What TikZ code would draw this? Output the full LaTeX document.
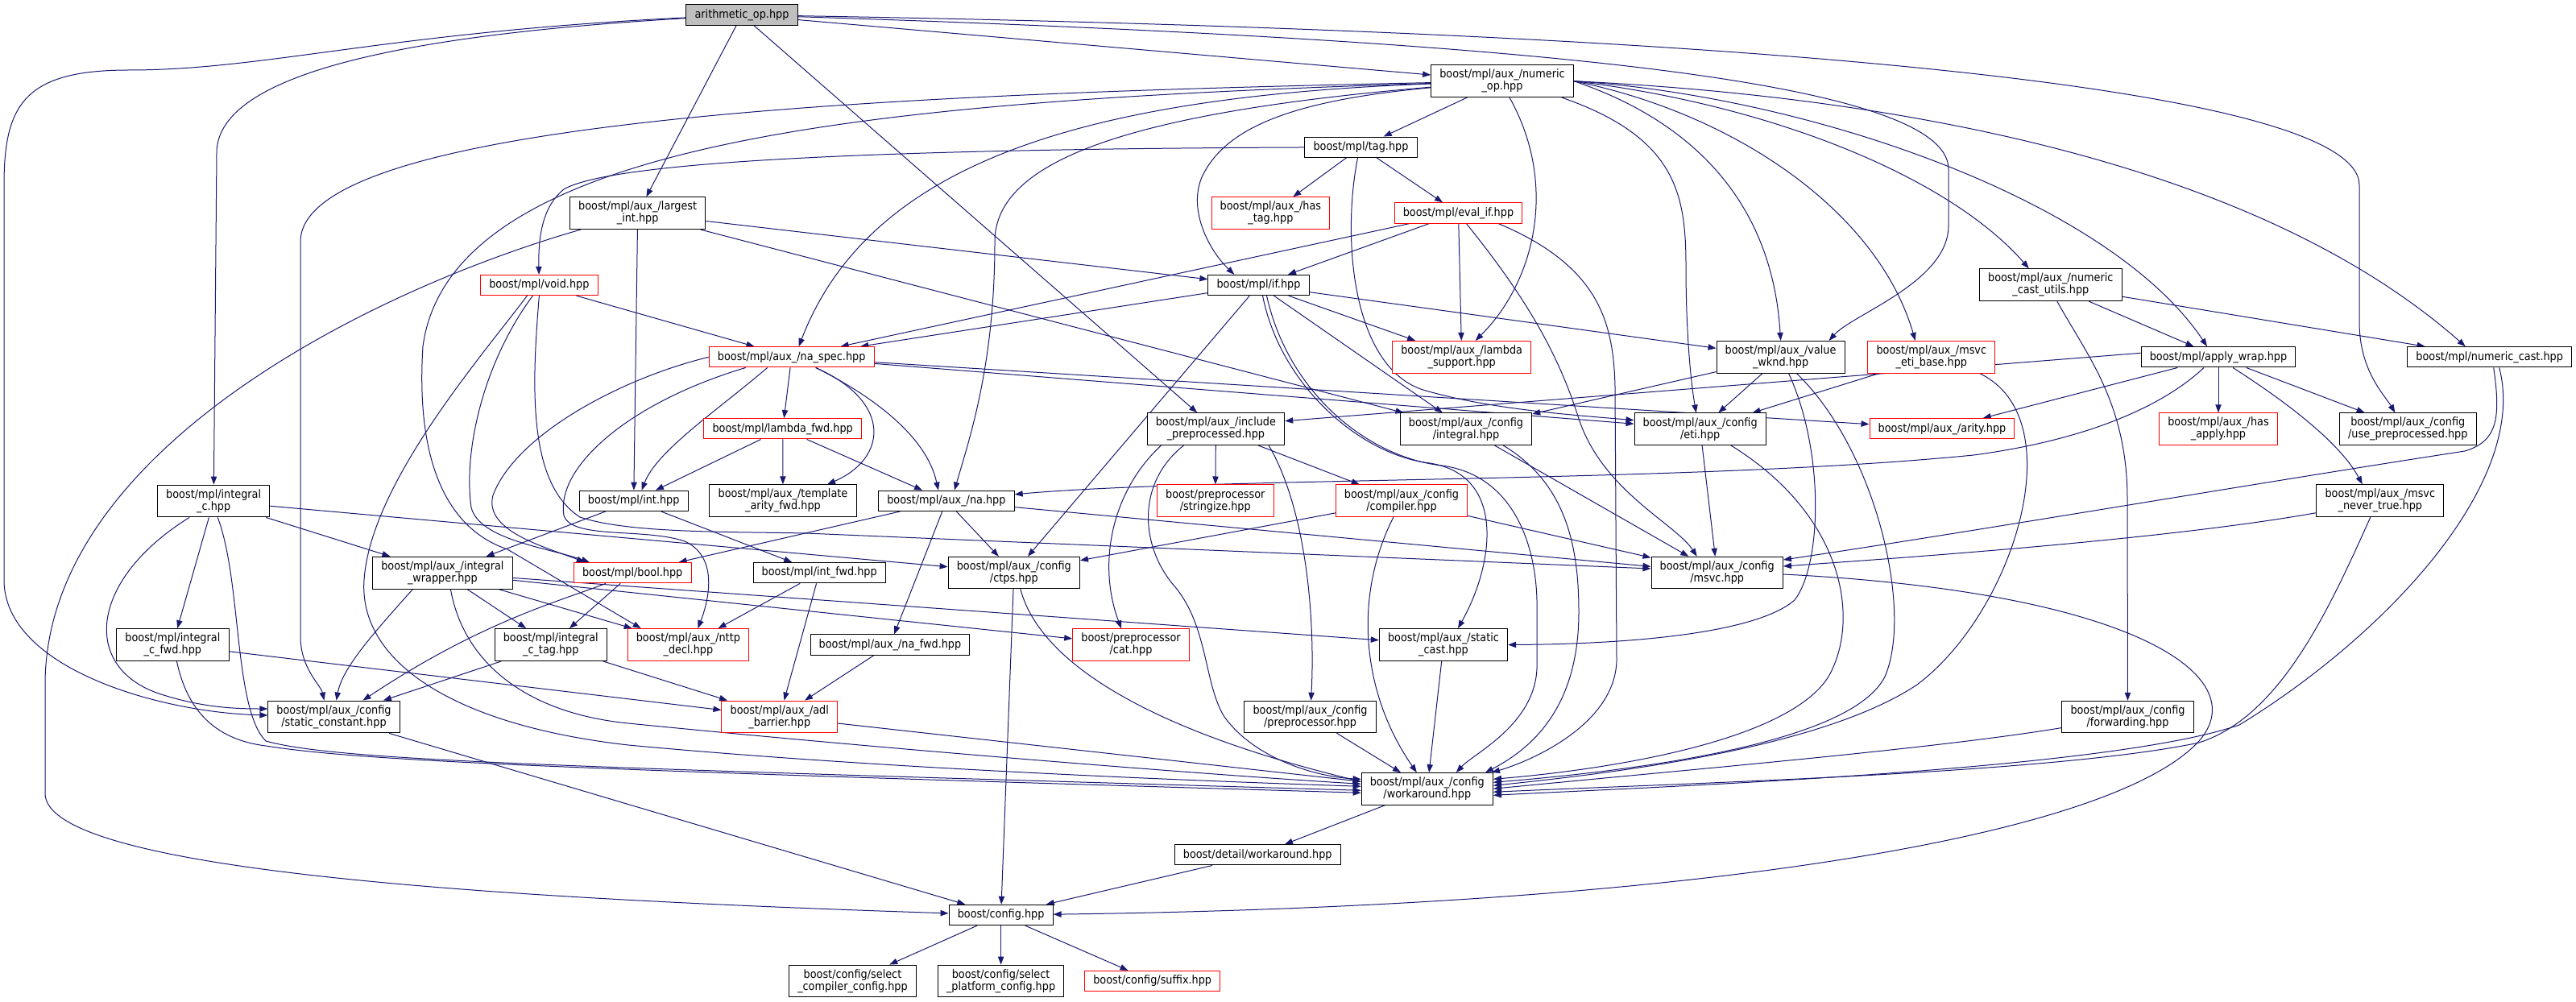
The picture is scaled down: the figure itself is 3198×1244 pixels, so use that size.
\documentclass[tikz,border=0pt]{standalone}
\usepackage{fontspec}
\IfFontExistsTF{DejaVu Sans Condensed}
  {\newfontfamily\condfont{DejaVu Sans Condensed}}
  {\newfontfamily\condfont{DejaVu Sans}[FakeStretch=0.9]}
\usetikzlibrary{arrows.meta, calc, backgrounds}
\definecolor{depblue}{HTML}{191970}
\definecolor{rootgray}{HTML}{BFBFBF}
\newcommand{\hdrfont}{\condfont\fontsize{10.7}{11.2}\selectfont}
\tikzset{
  hfile/.style={
    draw=black, line width=0.75pt, fill=white, align=center,
    inner xsep=8pt, inner ysep=4pt, minimum height=19pt, font=\hdrfont
  },
  trunc/.style={hfile, draw=red},
  rootfile/.style={hfile, fill=rootgray},
  dep/.style={depblue, line width=0.75pt, -{Triangle[length=7.5pt,width=5.5pt]}}
}

\begin{document}
\begin{tikzpicture}[x=0.75pt, y=-0.75pt]
  \useasboundingbox (0,0) rectangle (3198,1244);
  % headers, top rank first
  \node[rootfile] (root) at (921,18.5) {arithmetic\_op.hpp};
  \node[hfile] (numop) at (1865,100.7) {boost/mpl/aux\_/numeric\\\_op.hpp};
  \node[hfile] (tag) at (1689.5,182.7) {boost/mpl/tag.hpp};
  \node[hfile] (largest) at (791.7,264.7) {boost/mpl/aux\_/largest\\\_int.hpp};
  \node[trunc] (hastag) at (1577.4,264.7) {boost/mpl/aux\_/has\\\_tag.hpp};
  \node[trunc] (evalif) at (1810.5,264.5) {boost/mpl/eval\_if.hpp};
  \node[trunc] (voidh) at (669.4,354) {boost/mpl/void.hpp};
  \node[hfile] (ifh) at (1562.5,354) {boost/mpl/if.hpp};
  \node[hfile] (numcastutils) at (2545.8,353.7) {boost/mpl/aux\_/numeric\\\_cast\_utils.hpp};
  \node[trunc] (naspec) at (982.7,443.3) {boost/mpl/aux\_/na\_spec.hpp};
  \node[trunc] (lamsupport) at (1814.7,443.3) {boost/mpl/aux\_/lambda\\\_support.hpp};
  \node[hfile] (valwknd) at (2210.6,443.3) {boost/mpl/aux\_/value\\\_wknd.hpp};
  \node[trunc] (etibase) at (2397.8,443.3) {boost/mpl/aux\_/msvc\\\_eti\_base.hpp};
  \node[hfile] (applywrap) at (2754,443.3) {boost/mpl/apply\_wrap.hpp};
  \node[hfile] (numcast) at (3090.7,443.3) {boost/mpl/numeric\_cast.hpp};
  \node[trunc] (lamfwd) at (971.7,532.3) {boost/mpl/lambda\_fwd.hpp};
  \node[hfile] (incpre) at (1509.4,532.7) {boost/mpl/aux\_/include\\\_preprocessed.hpp};
  \node[hfile] (cfgintegral) at (1820,532.7) {boost/mpl/aux\_/config\\/integral.hpp};
  \node[hfile] (cfgeti) at (2110.7,532.7) {boost/mpl/aux\_/config\\/eti.hpp};
  \node[trunc] (arity) at (2411,532.3) {boost/mpl/aux\_/arity.hpp};
  \node[trunc] (hasapply) at (2754,532.7) {boost/mpl/aux\_/has\\\_apply.hpp};
  \node[hfile] (usepre) at (2989.3,532.7) {boost/mpl/aux\_/config\\/use\_preprocessed.hpp};
  \node[hfile] (integralc) at (265.2,622) {boost/mpl/integral\\\_c.hpp};
  \node[hfile] (inth) at (786.7,621.8) {boost/mpl/int.hpp};
  \node[hfile] (tplarity) at (972,621.7) {boost/mpl/aux\_/template\\\_arity\_fwd.hpp};
  \node[hfile] (na) at (1174.9,621.8) {boost/mpl/aux\_/na.hpp};
  \node[trunc] (stringize) at (1508.8,621.7) {boost/preprocessor\\/stringize.hpp};
  \node[trunc] (compiler) at (1740,621.7) {boost/mpl/aux\_/config\\/compiler.hpp};
  \node[hfile] (nevertrue) at (2954.8,621.7) {boost/mpl/aux\_/msvc\\\_never\_true.hpp};
  \node[hfile] (wrapper) at (549.4,711.2) {boost/mpl/aux\_/integral\\\_wrapper.hpp};
  \node[trunc] (boolh) at (785.2,711.2) {boost/mpl/bool.hpp};
  \node[hfile] (intfwd) at (1017.2,711.2) {boost/mpl/int\_fwd.hpp};
  \node[hfile] (ctps) at (1258.8,711) {boost/mpl/aux\_/config\\/ctps.hpp};
  \node[hfile] (msvc) at (2131.7,711) {boost/mpl/aux\_/config\\/msvc.hpp};
  \node[hfile] (intcfwd) at (214.4,800.5) {boost/mpl/integral\\\_c\_fwd.hpp};
  \node[hfile] (intctag) at (683.8,800.5) {boost/mpl/integral\\\_c\_tag.hpp};
  \node[trunc] (nttp) at (854.4,800.5) {boost/mpl/aux\_/nttp\\\_decl.hpp};
  \node[hfile] (nafwd) at (1105,800.5) {boost/mpl/aux\_/na\_fwd.hpp};
  \node[trunc] (cat) at (1404,800.5) {boost/preprocessor\\/cat.hpp};
  \node[hfile] (staticcast) at (1792,800.5) {boost/mpl/aux\_/static\\\_cast.hpp};
  \node[hfile] (staticconst) at (414.5,890) {boost/mpl/aux\_/config\\/static\_constant.hpp};
  \node[trunc] (adl) at (967.8,890) {boost/mpl/aux\_/adl\\\_barrier.hpp};
  \node[hfile] (cfgpre) at (1626.6,890) {boost/mpl/aux\_/config\\/preprocessor.hpp};
  \node[hfile] (forwarding) at (2641.5,890) {boost/mpl/aux\_/config\\/forwarding.hpp};
  \node[hfile] (cfgwork) at (1771.8,979.3) {boost/mpl/aux\_/config\\/workaround.hpp};
  \node[hfile] (detwork) at (1561.2,1061.3) {boost/detail/workaround.hpp};
  \node[hfile] (config) at (1242.6,1136) {boost/config.hpp};
  \node[hfile] (selcomp) at (1058.5,1218) {boost/config/select\\\_compiler\_config.hpp};
  \node[hfile] (selplat) at (1242.6,1218) {boost/config/select\\\_platform\_config.hpp};
  \node[trunc] (suffix) at (1430.7,1218) {boost/config/suffix.hpp};

  \begin{scope}[on background layer]
    % straight includes
    \foreach \a/\b in {root/largest, root/incpre, root/numop, numop/tag,
        tag/hastag, tag/evalif, largest/inth, largest/ifh, largest/cfgintegral,
        voidh/naspec, evalif/naspec, evalif/ifh, evalif/lamsupport,
        ifh/naspec, ifh/lamsupport, ifh/valwknd, ifh/ctps, ifh/cfgintegral,
        naspec/lamfwd, naspec/cfgeti, naspec/arity, lamfwd/inth,
        lamfwd/tplarity, lamfwd/na, valwknd/cfgintegral, valwknd/cfgeti,
        etibase/cfgeti, numcastutils/numcast, numcastutils/applywrap,
        applywrap/arity, applywrap/hasapply, applywrap/usepre,
        incpre/stringize, incpre/compiler, integralc/intcfwd,
        integralc/wrapper, integralc/ctps, inth/wrapper, inth/intfwd,
        na/boolh, na/nafwd, na/ctps, na/msvc, compiler/ctps, compiler/msvc,
        cfgintegral/msvc, cfgeti/msvc, wrapper/intctag, wrapper/nttp,
        wrapper/staticcast, wrapper/cat, boolh/intctag, intfwd/nttp,
        intfwd/adl, intcfwd/adl, intctag/adl, intctag/staticconst,
        nafwd/adl, staticconst/config, ctps/config, adl/cfgwork,
        cfgpre/cfgwork, staticcast/cfgwork, cfgwork/detwork,
        detwork/config, config/selcomp, config/selplat, config/suffix}
      \draw[dep] (\a) -- (\b);

    % routed includes
    \draw[dep] (root) .. controls (560,40) and (269,80) .. (269,190) -- (integralc);
    \draw[dep] (root) .. controls (480,40) and (330,87) .. (160,87)
      .. controls (30,87) and (5,130) .. (5,230) -- (5,720)
      .. controls (5,830) and (200,885) .. ($(staticconst.west)+(0,-2)$);
    \draw[dep] (root) .. controls (2200,40) and (2929,110) .. (2929,230) -- (2929,400)
      .. controls (2929,460) and (2960,490) .. ($(usepre.north)+(-16,0)$);
    \draw[dep] (root) .. controls (1900,50) and (2419,100) .. (2419,210) -- (2419,280)
      .. controls (2419,350) and (2300,390) .. ($(valwknd.north)+(60,0)$);

    \draw[dep] (numop) .. controls (1200,115) and (373,140) .. (373,300) -- (373,790)
      .. controls (373,830) and (398,850) .. ($(staticconst.north)+(-12,0)$);
    \draw[dep] (numop) .. controls (1350,120) and (1080,200) .. ($(naspec.north)+(9,0)$);
    \draw[dep] (numop) .. controls (1100,125) and (560,170) .. (525,430)
      .. controls (515,590) and (565,660) .. (630,682) -- ($(nttp.north west)+(17,0)$);
    \draw[dep] (numop) .. controls (1400,140) and (1235,200) .. (1235,300)
      .. controls (1235,450) and (1205,540) .. ($(na.north)+(10,0)$);
    \draw[dep] (numop) .. controls (1600,125) and (1520,160) .. (1492,220)
      .. controls (1475,260) and (1500,310) .. ($(ifh.north west)+(33,0)$);
    \draw[dep] ($(numop.south)+(9,0)$) .. controls (1935,230) and (1905,350) .. ($(lamsupport.north)+(17,0)$);
    \draw[dep] ($(numop.south east)+(-15,0)$) .. controls (2080,170) and (2093,240) .. (2093,330)
      .. controls (2093,420) and (2100,480) .. ($(cfgeti.north)+(-5,0)$);
    \draw[dep] (numop.east) .. controls (2100,150) and (2200,250) .. (valwknd.north);
    \draw[dep] (numop.east) .. controls (2150,140) and (2330,260) .. ($(etibase.north)+(-20,0)$);
    \draw[dep] (numop.east) .. controls (2200,130) and (2420,220) .. ($(numcastutils.north)+(-27,0)$);
    \draw[dep] (numop.east) .. controls (2250,120) and (2620,250) .. ($(applywrap.north)+(-14,0)$);
    \draw[dep] (numop.east) .. controls (2350,120) and (2800,200) .. ($(numcast.north)+(-30,0)$);

    \draw[dep] (tag) .. controls (1100,185) and (760,200) .. (700,235)
      .. controls (675,255) and (668,290) .. (voidh);
    \draw[dep] ($(tag.south)+(-4,0)$) .. controls (1665,300) and (1680,460) .. (1770,485)
      .. controls (1850,508) and (1950,515) .. ($(cfgeti.west)+(0,-11)$);

    \draw[dep] (largest) .. controls (460,360) and (56,560) .. (56,850) -- (56,985)
      .. controls (56,1080) and (600,1115) .. (config);

    \draw[dep] ($(voidh.south)+(-8,0)$) .. controls (600,450) and (575,560) .. (585,630)
      .. controls (595,670) and (680,680) .. ($(boolh.north west)+(20,0)$);
    \draw[dep] (voidh.south) .. controls (660,480) and (655,600) .. (720,642)
      .. controls (780,662) and (900,660) .. (1000,662) -- ($(msvc.west)+(0,-5)$);
    \draw[dep] ($(voidh.south)+(-15,0)$) .. controls (600,440) and (460,600) .. (452,720)
      .. controls (445,820) and (560,900) .. (780,925)
      .. controls (1100,955) and (1500,970) .. ($(cfgwork.west)+(0,-3)$);

    \draw[dep] ($(naspec.south)+(-30,0)$) .. controls (890,510) and (815,560) .. ($(inth.north)+(10,0)$);
    \draw[dep] (naspec.west) .. controls (770,470) and (640,540) .. (612,615)
      .. controls (600,660) and (680,680) .. ($(boolh.north west)+(14,0)$);
    \draw[dep] ($(naspec.south)+(30,0)$) .. controls (1080,490) and (1150,540) .. ($(na.north)+(-10,0)$);
    \draw[dep] ($(naspec.south)+(30,0)$) .. controls (1110,500) and (1100,570) .. ($(tplarity.north)+(55,0)$);
    \draw[dep] ($(naspec.south)+(-57,0)$) .. controls (780,500) and (690,580) .. (700,640)
      .. controls (710,670) and (800,655) .. (850,672)
      .. controls (890,690) and (882,740) .. ($(nttp.north)+(12,0)$);

    \draw[dep] ($(ifh.south)+(5,0)$) .. controls (1590,480) and (1690,565) .. (1775,575)
      .. controls (1870,590) and (1855,700) .. ($(staticcast.north)+(18,0)$);
    \draw[dep] ($(ifh.south)+(10,0)$) .. controls (1600,490) and (1700,568) .. (1790,578)
      .. controls (1880,590) and (1910,680) .. (1908,760) -- (1908,830)
      .. controls (1905,900) and (1830,935) .. ($(cfgwork.north)+(36,0)$);

    \draw[dep] ($(evalif.south)+(10,0)$) .. controls (1895,370) and (1935,440) .. (1960,520)
      .. controls (1990,610) and (2080,650) .. ($(msvc.north)+(-25,0)$);
    \draw[dep] ($(evalif.south east)+(-30,0)$) .. controls (1985,330) and (2003,400) .. (2005,480)
      -- (2007,820) .. controls (2005,900) and (1900,945) .. ($(cfgwork.north east)+(-2,0)$);
    \draw[dep] ($(cfgintegral.south)+(46,0)$) .. controls (1945,600) and (1960,680) .. (1960,760)
      .. controls (1960,880) and (1900,930) .. ($(cfgwork.north east)+(-10,0)$);
    \draw[dep] ($(cfgeti.south)+(38,0)$) .. controls (2290,640) and (2310,770) .. (2270,840)
      .. controls (2220,920) and (2000,955) .. ($(cfgwork.east)+(0,-12)$);

    \draw[dep] ($(valwknd.south)+(10,0)$) .. controls (2265,560) and (2262,700) .. (2228,745)
      .. controls (2170,795) and (1960,800) .. (staticcast.east);
    \draw[dep] ($(valwknd.south)+(20,0)$) .. controls (2330,560) and (2375,760) .. (2340,840)
      .. controls (2300,920) and (2050,955) .. ($(cfgwork.east)+(0,-8)$);
    \draw[dep] ($(etibase.south)+(60,0)$) .. controls (2575,520) and (2500,760) .. (2380,850)
      .. controls (2260,930) and (2000,960) .. ($(cfgwork.east)+(0,-4)$);

    \draw[dep] ($(numcast.south)+(5,0)$) .. controls (3105,520) and (3100,548) .. (3060,560)
      .. controls (2800,600) and (2450,660) .. ($(msvc.east)+(0,-16)$);
    \draw[dep] ($(numcast.south)+(12,0)$) .. controls (3140,600) and (2960,790) .. (2780,900)
      .. controls (2620,955) and (2100,975) .. ($(cfgwork.east)+(0,8)$);
    \draw[dep] ($(nevertrue.west)+(0,15)$) .. controls (2700,668) and (2400,690) .. ($(msvc.east)+(0,-8)$);
    \draw[dep] ($(nevertrue.south)+(-12,0)$) .. controls (2890,760) and (2830,890) .. (2730,922)
      .. controls (2550,960) and (2100,972) .. ($(cfgwork.east)+(0,4)$);
    \draw[dep] (forwarding) .. controls (2400,930) and (2100,955) .. (cfgwork.east);
    \draw[dep] ($(numcastutils.south)+(8,0)$) .. controls (2590,440) and (2641,500) .. (2641,620) -- (forwarding);

    \draw[dep] ($(applywrap.south)+(18,0)$) .. controls (2840,500) and (2905,550) .. ($(nevertrue.north)+(-22,0)$);
    \draw[dep] ($(applywrap.south)+(-18,0)$) .. controls (2690,500) and (2600,545) .. (2450,565)
      .. controls (2100,600) and (1500,592) .. ($(na.east)+(0,-8)$);
    \draw[dep] ($(applywrap.west)+(0,-5)$) -- ($(incpre.east)+(0,-10)$);

    \draw[dep] ($(msvc.east)+(0,2)$) .. controls (2650,735) and (2800,840) .. (2730,920)
      .. controls (2620,1040) and (2100,1125) .. (config);

    \draw[dep] ($(integralc.south)+(-30,0)$) .. controls (110,720) and (100,830) .. (200,862)
      .. controls (250,878) and (290,880) .. ($(staticconst.west)+(0,-10)$);
    \draw[dep] ($(integralc.south)+(5,0)$) .. controls (300,720) and (290,880) .. (330,920)
      .. controls (420,945) and (700,952) .. ($(cfgwork.west)+(0,2)$);
    \draw[dep] ($(intcfwd.south)+(5,0)$) .. controls (232,880) and (265,918) .. (330,926)
      .. controls (450,945) and (700,955) .. ($(cfgwork.west)+(0,5)$);
    \draw[dep] ($(wrapper.south)+(-37,0)$) .. controls (460,790) and (425,830) .. ($(staticconst.north)+(3,0)$);
    \draw[dep] ($(wrapper.south)+(10,0)$) .. controls (575,820) and (650,885) .. (780,898)
      .. controls (1100,930) and (1500,962) .. ($(cfgwork.west)+(0,-6)$);
    \draw[dep] (boolh) .. controls (700,745) and (600,770) .. ($(staticconst.north)+(36,0)$);
    \draw[dep] ($(ctps.south)+(8,0)$) .. controls (1290,820) and (1420,905) .. ($(cfgwork.west)+(0,-9)$);

    \draw[dep] ($(incpre.south)+(-68,0)$) .. controls (1380,610) and (1362,700) .. ($(cat.north)+(-12,0)$);
    \draw[dep] ($(incpre.south east)+(-20,0)$) .. controls (1620,630) and (1633,760) .. (cfgpre);
    \draw[dep] ($(incpre.south)+(-40,0)$) .. controls (1410,600) and (1415,680) .. (1460,730)
      .. controls (1500,780) and (1495,850) .. (1520,890)
      .. controls (1560,945) and (1640,965) .. ($(cfgwork.west)+(0,-12)$);
    \draw[dep] ($(compiler.south)+(-10,0)$) .. controls (1680,740) and (1690,860) .. ($(cfgwork.north)+(-13,0)$);
  \end{scope}
\end{tikzpicture}
\end{document}
